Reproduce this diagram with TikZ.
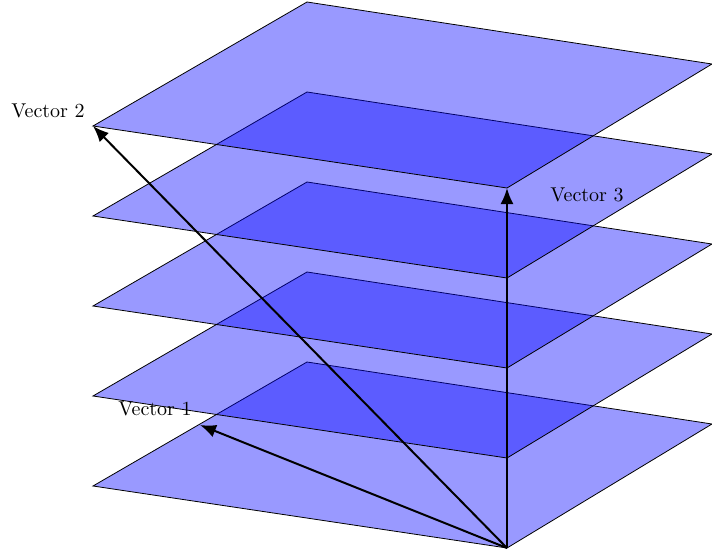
\documentclass[tikz,border=0pt]{standalone}
\usetikzlibrary{arrows.meta}
\begin{document}
\begin{tikzpicture}[x=0.5pt,y=-0.5pt,
  plane/.style={draw=black,line width=0.4pt,fill=blue,fill opacity=0.4},
  vec/.style={draw=black,line width=1pt,-{Latex[length=8pt,width=6.5pt]}},
  lbl/.style={inner sep=1pt,font=\normalsize}]
\useasboundingbox (0,0) rectangle (712,556);
\foreach \i/\dy in {5/360,4/270,3/180,2/90,1/0}{
  \coordinate (L\i) at (93,126+\dy);
  \coordinate (T\i) at (307,2+\dy);
  \coordinate (R\i) at (712,64+\dy);
  \coordinate (B\i) at (507,188+\dy);
  \path[plane] (L\i) -- (T\i) -- (R\i) -- (B\i) -- cycle;
}
\coordinate (O) at (507,548);
\coordinate (v1) at (200,425);
\coordinate (v2) at (93,126);
\coordinate (v3) at (507,188);
\draw[vec] (O) -- (v1);
\draw[vec] (O) -- (v2);
\draw[vec] (O) -- (v3);
\node[lbl] (l1) at (155,409) {Vector 1};
\node[lbl] (l2) at (48,111) {Vector 2};
\node[lbl] (l3) at (587,195) {Vector 3};
\end{tikzpicture}
\end{document}
